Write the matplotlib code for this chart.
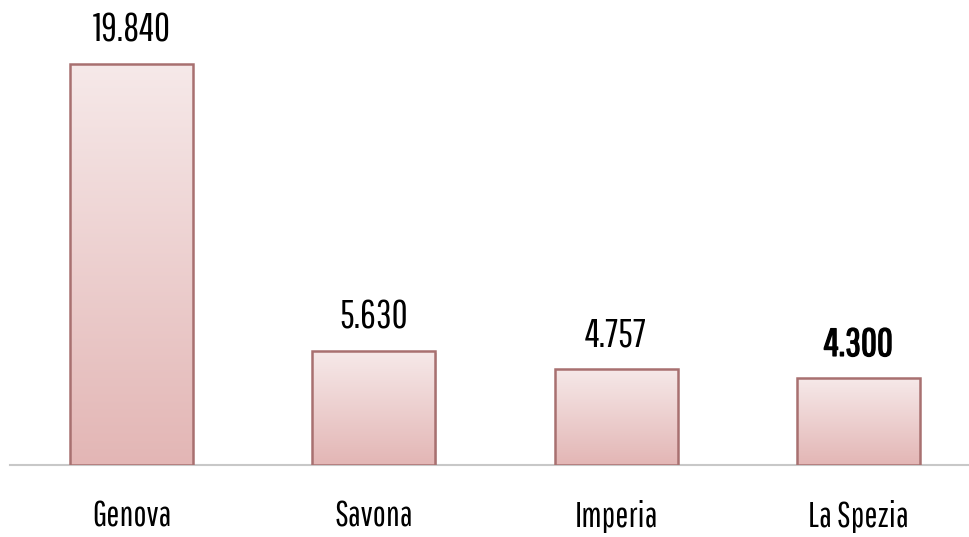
import matplotlib
matplotlib.use("Agg")
import matplotlib.pyplot as plt
import matplotlib.patheffects as pe
import matplotlib.transforms as mtransforms
import numpy as np
from matplotlib.colors import LinearSegmentedColormap

categories = ["Genova", "Savona", "Imperia", "La Spezia"]
values = [19840, 5630, 4757, 4300]
labels = ["19.840", "5.630", "4.757", "4.300"]
bold_flags = [False, False, False, True]

W, H = 969, 537
fig = plt.figure(figsize=(W / 100, H / 100), dpi=100)
left = 10.4 / W
bottom = (H - 465) / H
ax = fig.add_axes([left, bottom, 1 - left, 1 - bottom])

spacing_px = 242.3
xlim = (-0.5, -0.5 + (W - 10.4) / spacing_px)
px_per_unit = 401 / 19840
ax.set_ylim(0, 465 / px_per_unit)

fam = ["Pathway Gothic One", "PT Sans Narrow", "Roboto Condensed", "DejaVu Sans"]

# soft shadow
shadow = ax.bar(range(len(categories)), values, width=0.507,
                facecolor="#000000", alpha=0.12, edgecolor="none", zorder=1)
off = mtransforms.offset_copy(ax.transData, fig=fig, x=1.5, y=-1.5, units="dots")
for s in shadow:
    s.set_transform(off)

bars = ax.bar(range(len(categories)), values, width=0.507,
              facecolor="none", edgecolor="#a87070", linewidth=1.8, zorder=3)

cmap = LinearSegmentedColormap.from_list("g", ["#e3b6b5", "#f6e9e9"])
grad = np.linspace(0, 1, 256).reshape(-1, 1)
for b in bars:
    x0, w, h = b.get_x(), b.get_width(), b.get_height()
    im = ax.imshow(grad, extent=[x0, x0 + w, 0, h], origin="lower",
                   cmap=cmap, aspect="auto", zorder=2)
    im.set_clip_path(b)

for i, (v, lab, bf) in enumerate(zip(values, labels, bold_flags)):
    t = ax.annotate(lab, (i, v), xytext=(0, 16), textcoords="offset points",
                    ha="center", va="baseline", fontsize=28, family=fam,
                    fontweight="bold" if bf else "normal", color="black")
    if bf:
        t.set_path_effects([pe.Stroke(linewidth=1.0, foreground="black"), pe.Normal()])

ax.set_xticks(range(len(categories)))
ax.set_xticklabels(categories, fontsize=25, family=fam)
ax.tick_params(axis="x", length=0, pad=25)
ax.set_yticks([])
for s in ["top", "right", "left"]:
    ax.spines[s].set_visible(False)
ax.spines["bottom"].set_color("#c8c8c8")
ax.spines["bottom"].set_linewidth(1.5)
ax.spines["bottom"].set_zorder(0.5)
ax.set_xlim(*xlim)

fig.savefig("out.png", dpi=100)
